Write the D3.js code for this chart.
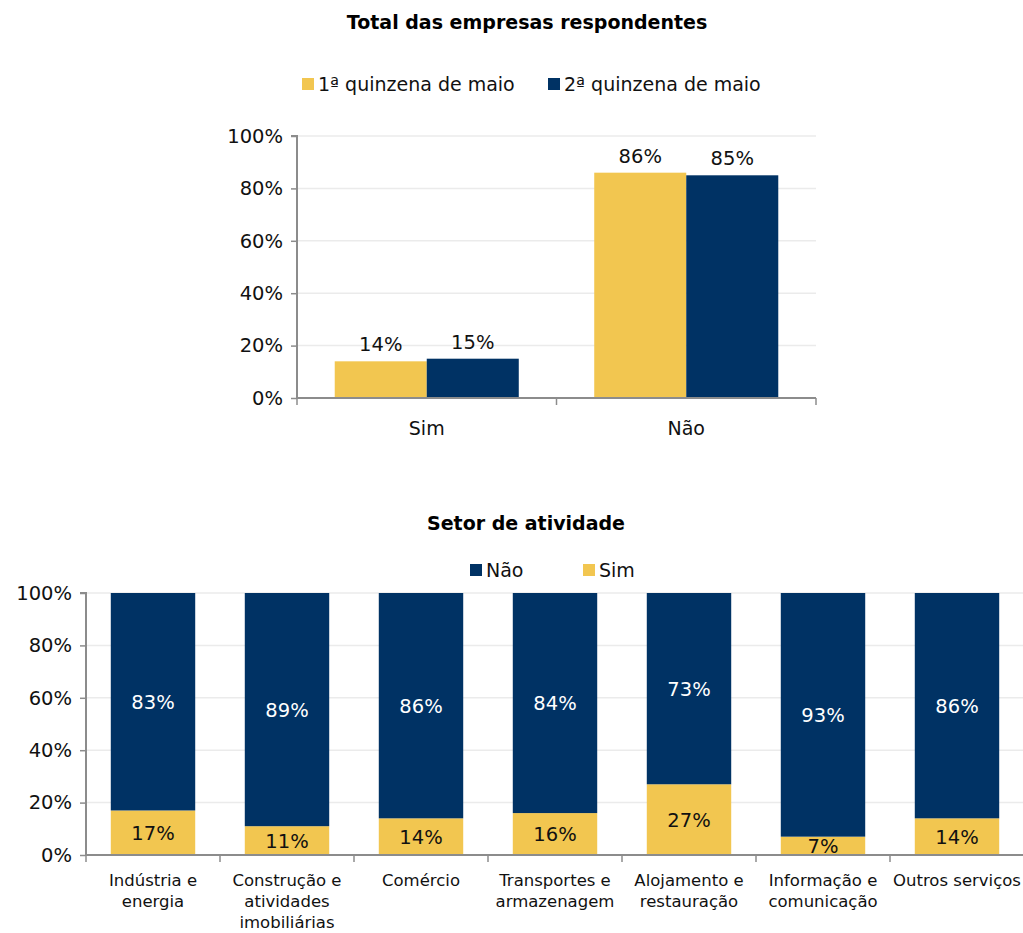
<!DOCTYPE html>
<html><head><meta charset="utf-8">
<script src="https://cdn.jsdelivr.net/npm/d3@7"></script>
<style>
body{margin:0;background:#fff;}
text{font-family:"DejaVu Sans",sans-serif;}
</style></head>
<body><svg id="c" width="1023" height="933"></svg>
<script>
const topCategories = ["Sim", "Não"];
const topSeries = ["1ª quinzena de maio", "2ª quinzena de maio"];
const topFirst = [14, 86];
const topSecond = [15, 85];

const sectors = [["Indústria e","energia"],["Construção e","atividades","imobiliárias"],["Comércio"],["Transportes e","armazenagem"],["Alojamento e","restauração"],["Informação e","comunicação"],["Outros serviços"]];
const sectorSim = [17, 11, 14, 16, 27, 7, 14];
const sectorNao = [83, 89, 86, 84, 73, 93, 86];
const yTicks = [0, 20, 40, 60, 80, 100];

const YEL = "#F2C650", BLU = "#003264", GRID = "#ebebeb", AX = "#8c8c8c";
const svg = d3.select("#c");
const fmt = d => d + "%";
const NUM = 19.5;

// ---------- Top chart ----------
{
  const x = d3.scaleBand().domain(topCategories).range([297, 816]).paddingInner(0).paddingOuter(0);
  const y = d3.scaleLinear().domain([0, 100]).range([398, 136]);
  svg.append("text").attr("x", 527).attr("y", 29).attr("text-anchor", "middle")
    .attr("font-size", 19).attr("font-weight", "bold").text("Total das empresas respondentes");
  svg.append("g").selectAll("line").data(yTicks.filter(d => d > 0)).join("line")
    .attr("x1", 297).attr("x2", 816).attr("y1", d => y(d)).attr("y2", d => y(d))
    .attr("stroke", GRID).attr("stroke-width", 1.5);
  const inner = d3.scaleBand().domain([0, 1]).range([0, x.bandwidth()]).paddingInner(0).paddingOuter(0.41);
  const data = topCategories.flatMap((c, i) => [
    {c, s: 0, v: topFirst[i]}, {c, s: 1, v: topSecond[i]}]);
  svg.append("g").selectAll("rect").data(data).join("rect")
    .attr("x", d => x(d.c) + inner(d.s)).attr("width", inner.bandwidth())
    .attr("y", d => y(d.v)).attr("height", d => y(0) - y(d.v))
    .attr("fill", d => d.s ? BLU : YEL);
  svg.append("g").selectAll("text").data(data).join("text")
    .attr("x", d => x(d.c) + inner(d.s) + inner.bandwidth() / 2)
    .attr("y", d => y(d.v) - 10).attr("text-anchor", "middle").attr("font-size", NUM)
    .attr("fill", "#111").text(d => fmt(d.v));
  const ya = svg.append("g").attr("transform", "translate(297,0)")
    .call(d3.axisLeft(y).tickValues(yTicks).tickFormat(fmt).tickSize(6).tickPadding(8));
  ya.select(".domain").attr("stroke", AX).attr("stroke-width", 2).attr("d", "M-6,136H0V398");
  ya.selectAll(".tick line").attr("stroke", AX).attr("stroke-width", 1.5);
  ya.selectAll(".tick text").attr("font-size", NUM).attr("fill", "#111").attr("font-family", "DejaVu Sans");
  svg.append("line").attr("x1", 297).attr("x2", 816).attr("y1", 398).attr("y2", 398).attr("stroke", AX).attr("stroke-width", 2);
  svg.append("g").selectAll("line").data([0, 1, 2]).join("line")
    .attr("x1", d => 297 + d * x.step()).attr("x2", d => 297 + d * x.step())
    .attr("y1", 398).attr("y2", 405).attr("stroke", AX).attr("stroke-width", 1.5);
  svg.append("g").selectAll("text").data(topCategories).join("text")
    .attr("x", d => x(d) + x.bandwidth() / 2).attr("y", 435).attr("text-anchor", "middle")
    .attr("font-size", 19).attr("fill", "#111").text(d => d);
  const lg = [{t: topSeries[0], c: YEL, x: 302}, {t: topSeries[1], c: BLU, x: 548}];
  lg.forEach(l => {
    svg.append("rect").attr("x", l.x).attr("y", 78).attr("width", 12).attr("height", 12).attr("fill", l.c);
    svg.append("text").attr("x", l.x + 16).attr("y", 91).attr("font-size", 19).attr("fill", "#111").text(l.t);
  });
}

// ---------- Bottom chart ----------
{
  const x = d3.scaleBand().domain(d3.range(sectors.length)).range([86, 1024]).paddingInner(0.37).paddingOuter(0.185);
  const y = d3.scaleLinear().domain([0, 100]).range([855, 593]);
  svg.append("text").attr("x", 526).attr("y", 530).attr("text-anchor", "middle")
    .attr("font-size", 19).attr("font-weight", "bold").text("Setor de atividade");
  svg.append("g").selectAll("line").data(yTicks.filter(d => d > 0)).join("line")
    .attr("x1", 86).attr("x2", 1023).attr("y1", d => y(d)).attr("y2", d => y(d))
    .attr("stroke", GRID).attr("stroke-width", 1.5);
  const rows = sectors.map((s, i) => ({i, sim: sectorSim[i], nao: sectorNao[i]}));
  const g = svg.append("g");
  g.selectAll(".s").data(rows).join("rect").attr("class", "s")
    .attr("x", d => x(d.i)).attr("width", x.bandwidth())
    .attr("y", d => y(d.sim)).attr("height", d => y(0) - y(d.sim)).attr("fill", YEL);
  g.selectAll(".n").data(rows).join("rect").attr("class", "n")
    .attr("x", d => x(d.i)).attr("width", x.bandwidth())
    .attr("y", d => y(d.sim + d.nao)).attr("height", d => y(d.sim) - y(d.sim + d.nao)).attr("fill", BLU);
  g.selectAll(".sl").data(rows).join("text").attr("class", "sl")
    .attr("x", d => x(d.i) + x.bandwidth() / 2).attr("y", d => y(d.sim / 2) + 7)
    .attr("text-anchor", "middle").attr("font-size", NUM).attr("fill", "#111").text(d => fmt(d.sim));
  g.selectAll(".nl").data(rows).join("text").attr("class", "nl")
    .attr("x", d => x(d.i) + x.bandwidth() / 2).attr("y", d => y(d.sim + d.nao / 2) + 7)
    .attr("text-anchor", "middle").attr("font-size", NUM).attr("fill", "#fff").text(d => fmt(d.nao));
  const ya = svg.append("g").attr("transform", "translate(86,0)")
    .call(d3.axisLeft(y).tickValues(yTicks).tickFormat(fmt).tickSize(6).tickPadding(8));
  ya.select(".domain").attr("stroke", AX).attr("stroke-width", 2).attr("d", "M-6,593H0V855");
  ya.selectAll(".tick line").attr("stroke", AX).attr("stroke-width", 1.5);
  ya.selectAll(".tick text").attr("font-size", NUM).attr("fill", "#111").attr("font-family", "DejaVu Sans");
  svg.append("line").attr("x1", 86).attr("x2", 1023).attr("y1", 855).attr("y2", 855).attr("stroke", AX).attr("stroke-width", 2);
  svg.append("g").selectAll("line").data(d3.range(sectors.length + 1)).join("line")
    .attr("x1", d => 86 + d * x.step()).attr("x2", d => 86 + d * x.step())
    .attr("y1", 855).attr("y2", 862).attr("stroke", AX).attr("stroke-width", 1.5);
  const lab = svg.append("g").selectAll("text").data(rows).join("text")
    .attr("x", d => x(d.i) + x.bandwidth() / 2).attr("y", 886).attr("text-anchor", "middle")
    .attr("font-size", 16.5).attr("fill", "#111");
  lab.selectAll("tspan").data(d => sectors[d.i]).join("tspan")
    .attr("x", function() { return this.parentNode.getAttribute("x"); })
    .attr("dy", (d, j) => j ? 21 : 0).text(d => d);
  const lg = [{t: "Não", c: BLU, x: 470}, {t: "Sim", c: YEL, x: 583}];
  lg.forEach(l => {
    svg.append("rect").attr("x", l.x).attr("y", 564).attr("width", 12).attr("height", 12).attr("fill", l.c);
    svg.append("text").attr("x", l.x + 16).attr("y", 577).attr("font-size", 19).attr("fill", "#111").text(l.t);
  });
}
</script></body></html>
